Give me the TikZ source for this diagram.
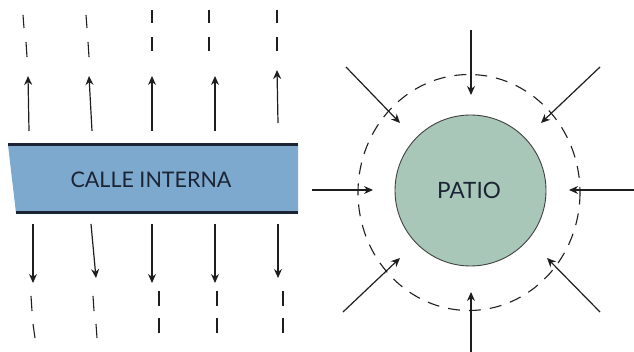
\documentclass[tikz,border=0pt]{standalone}
\usepackage{fontspec}
\setmainfont{Lato}
\usetikzlibrary{arrows.meta}
\definecolor{streetblue}{HTML}{7EA9CF}
\definecolor{streetline}{HTML}{1B2433}
\definecolor{patiogreen}{HTML}{A9C7B9}
\definecolor{ink}{HTML}{1E1E1E}
\tikzset{
  flow/.style={draw=ink, line width=1.2pt, -{Stealth[length=9pt,width=8pt]}},
  dashseg/.style={draw=ink, line width=1.1pt},
  lbl/.style={font=\fontsize{21.5}{24}\selectfont, text=streetline}
}
\begin{document}
\begin{tikzpicture}[x=1pt,y=-1pt]
\useasboundingbox (0,0) rectangle (634,352);
% street
\fill[streetblue] (8,145) -- (298,145) -- (298,213) -- (16,213) -- cycle;
\draw[streetline, line width=3pt] (8,145) -- (298,145);
\draw[streetline, line width=3pt] (16,213) -- (298,213);
\node[lbl] (calle) at (151,180) {CALLE INTERNA};
% up arrows
\foreach \a/\b/\c/\d/\n in {29/131/28/76/1, 92/131/89/76/2, 152/131/152/76/3, 215/131/215/76/4, 278/123/277/70/5}{
  \coordinate (us\n) at (\a,\b);
  \coordinate (ue\n) at (\c,\d);
  \draw[flow] (us\n) -- (ue\n);
}
% dashes above
\foreach \x/\y/\u/\v in {23/15/24/28, 26/42/27/57, 86/15/87/28, 88/42/89/57}{
  \draw[dashseg] (\x,\y) -- (\u,\v);
}
\foreach \x in {152,209,277}{
  \draw[dashseg] (\x,10) -- (\x,23);
  \draw[dashseg] (\x,37) -- (\x,51);
}
% down arrows
\foreach \a/\b/\c/\d/\n in {33/224/33/283/1, 91/224/96/278/2, 152/224/152/283/3, 215/224/215/283/4, 278/224/278/278/5}{
  \coordinate (ds\n) at (\a,\b);
  \coordinate (de\n) at (\c,\d);
  \draw[flow] (ds\n) -- (de\n);
}
% dashes below
\foreach \x/\y/\u/\v in {31/296/32/311, 33/324/35/338, 93/296/94/311, 96/324/97/338}{
  \draw[dashseg] (\x,\y) -- (\u,\v);
}
\foreach \x in {159,217,283}{
  \draw[dashseg] (\x,291) -- (\x,306);
  \draw[dashseg] (\x,318) -- (\x,333);
}
% patio
\draw[ink, line width=1.1pt, dash pattern=on 12pt off 9pt] (469,192.5) ellipse [x radius=111, y radius=118];
\node[circle, draw=ink!85, line width=0.9pt, fill=patiogreen, minimum size=151pt, inner sep=0pt] (patio) at (470.5,190.5) {};
\node[lbl, font=\fontsize{22.5}{25}\selectfont] (patiolbl) at (469,190) {PATIO};
% inward arrows
\foreach \a/\b/\c/\d/\n in {471/30/471/95/1, 346/67/400/123/2, 600/67/541/123/3, 312/190/373/190/4, 634/190/569/190/5, 343/312/400/258/6, 600/312/547/258/7, 471/352/471/292/8}{
  \coordinate (ps\n) at (\a,\b);
  \coordinate (pe\n) at (\c,\d);
  \draw[flow] (ps\n) -- (pe\n);
}
\end{tikzpicture}
\end{document}
